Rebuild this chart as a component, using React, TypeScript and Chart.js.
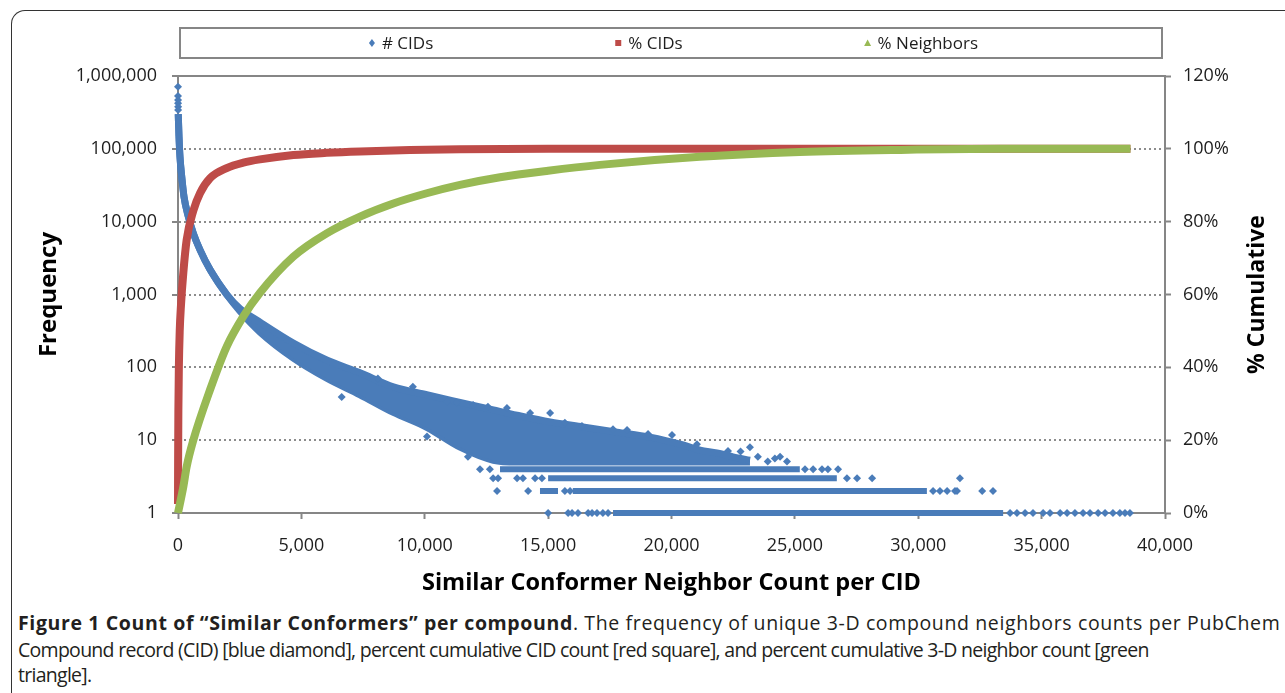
import React, { useEffect, useRef } from 'react';
import { Chart, registerables } from 'chart.js';
Chart.register(...registerables);

// ---------- axis ticks ----------
const xTickValues = [0, 5000, 10000, 15000, 20000, 25000, 30000, 35000, 40000];
const freqTickValues = [1, 10, 100, 1000, 10000, 100000, 1000000];
const pctTickValues = [0, 20, 40, 60, 80, 100, 120];

// ---------- legend ----------
const seriesLabels = ['# CIDs', '% CIDs', '% Neighbors'];

// ---------- % CIDs (red, cumulative) ----------
const pctCidX = [0, 5, 15, 35, 70, 120, 216, 351, 621, 892, 1297, 1973, 2648, 3324, 4675, 6026, 7377, 9403, 11430, 15000, 20000, 25000, 30000, 35000, 38600];
const pctCidY = [2.5, 15, 28, 40, 50, 57, 66, 75, 83, 87.8, 91.9, 94.7, 96.2, 97.1, 98.3, 98.9, 99.3, 99.7, 99.9, 100, 100, 100, 100, 100, 100];

// ---------- % Neighbors (green, cumulative) ----------
const pctNbrX = [0, 216, 351, 621, 1297, 1973, 2648, 3324, 4675, 6026, 7377, 8728, 10080, 11430, 13050, 15000, 17100, 21150, 25200, 29260, 33300, 38600];
const pctNbrY = [0, 7.2, 12.7, 20, 33.8, 45.7, 54, 60.5, 70.4, 76.8, 81.4, 85, 87.8, 90.1, 92.2, 94, 95.6, 97.8, 99.1, 99.7, 100, 100];

// ---------- # CIDs (blue) : dense band edges ----------
const bandX = [10, 40, 80, 150, 243, 420, 621, 892, 1297, 1973, 2513, 3324, 4675, 6026, 7377, 8728, 10080, 11430, 12780, 13740, 15080, 16410, 17790, 19130, 20470, 21160, 21840, 22490, 23180];
const bandUpper = [300000, 150000, 78000, 42000, 22000, 11700, 6900, 4100, 2200, 1000, 640, 418, 216, 126, 84, 54, 42, 33, 26, 22, 17.8, 15.2, 12.9, 11, 8.6, 7.3, 6.7, 5.9, 5.3];
const bandLower = [300000, 150000, 78000, 42000, 22000, 11700, 6900, 4100, 2200, 1000, 590, 305, 134, 71, 42, 24, 15, 8, 5.3, 5, 5, 5, 5, 5, 5, 5, 5, 5, 5];

// ---------- # CIDs : dense horizontal rows at small counts ----------
const row4Spans = [[13050, 25200]];
const row3Spans = [[15000, 26700]];
const row2Spans = [[14670, 15400], [16000, 30350]];
const row1Spans = [[17630, 33440]];

// ---------- # CIDs : individual diamonds ----------
const cidTopX = [0, 1, 2, 3, 4, 5];
const cidTopY = [713000, 532000, 469000, 422000, 379000, 341000];

const cidOutlierX = [6634, 8100, 9520, 10090, 10900, 11300, 11750, 11960, 12560, 13330, 14270, 15080, 15680, 16370, 17630, 18200, 19050, 20020, 21030, 22290, 22800, 23180, 23500, 23900, 24190, 24400, 24680];
const cidOutlierY = [39, 70, 54, 11.2, 33.7, 33, 5.9, 30.4, 28.8, 27.6, 23.6, 23.6, 17.4, 15.6, 14.1, 13.8, 12.2, 11.8, 8.8, 7.1, 7, 8, 5.9, 5.1, 5.6, 5.9, 5.1];

const row4SparseX = [12240, 12640, 25410, 25740, 26100, 26340, 26750];
const row3SparseX = [12770, 12970, 13740, 13980, 14470, 14750, 27110, 27520, 28130, 31690];
const row2SparseX = [12930, 14190, 15680, 15890, 30600, 30880, 31170, 31490, 31570, 32590, 33030];
const row1SparseX = [15000, 15810, 15970, 16210, 16620, 16780, 16980, 17220, 17430, 33720, 34000, 34330, 34650, 35060, 35340, 35750, 36030, 36350, 36680, 36960, 37290, 37570, 37890, 38170, 38380, 38580];

// ---------- style ----------
const BLUE = '#4a7cb9';
const RED = '#be4b48';
const GREEN = '#98b954';
const AXIS = '#868686';
const TEXT = '#1e1e1e';
const FONT = '"Open Sans", "DejaVu Sans", sans-serif';

const pts = (xs: number[], ys: number[]) => xs.map((x, i) => ({ x, y: ys[i] }));
const spansToLine = (spans: number[][], v: number) => {
  const out: any[] = [];
  spans.forEach(([a, b], i) => {
    if (i > 0) out.push({ x: (spans[i - 1][1] + a) / 2, y: null });
    out.push({ x: a, y: v }, { x: b, y: v });
  });
  return out;
};
const rowPts = (xs: number[], v: number) => xs.map((x) => ({ x, y: v }));

const frameDecor = {
  id: 'frameDecor',
  beforeDatasetsDraw(chart: any) {
    const { ctx, chartArea } = chart;
    ctx.save();
    ctx.strokeStyle = AXIS;
    ctx.lineWidth = 2;
    ctx.beginPath();
    ctx.moveTo(chartArea.left, chartArea.top);
    ctx.lineTo(chartArea.right, chartArea.top);
    ctx.stroke();
    ctx.restore();
  },
  afterDraw(chart: any) {
    const { ctx, chartArea } = chart;
    ctx.save();
    // legend box
    const bx = chartArea.left + 2;
    const bw = chartArea.right - 3 - bx;
    const by = 28;
    const bh = 30;
    ctx.strokeStyle = AXIS;
    ctx.lineWidth = 2;
    ctx.strokeRect(bx, by, bw, bh);
    ctx.font = `17px ${FONT}`;
    ctx.textBaseline = 'middle';
    ctx.fillStyle = TEXT;
    const markerW = 6;
    const gapText = 7;
    const gapItem = 182;
    const widths = seriesLabels.map((t) => markerW + gapText + ctx.measureText(t).width);
    const total = widths.reduce((a, b) => a + b, 0) + gapItem * (seriesLabels.length - 1);
    let x = (chartArea.left + chartArea.right) / 2 + 2 - total / 2;
    const cy = by + bh / 2;
    const colors = [BLUE, RED, GREEN];
    seriesLabels.forEach((t, i) => {
      const mx = x + markerW / 2;
      ctx.fillStyle = colors[i];
      ctx.beginPath();
      if (i === 0) {
        ctx.moveTo(mx, cy - 4);
        ctx.lineTo(mx + 3, cy);
        ctx.lineTo(mx, cy + 4);
        ctx.lineTo(mx - 3, cy);
        ctx.closePath();
      } else if (i === 1) {
        ctx.rect(mx - 3, cy - 3, 6, 6);
      } else {
        ctx.moveTo(mx, cy - 3.5);
        ctx.lineTo(mx + 3.5, cy + 3);
        ctx.lineTo(mx - 3.5, cy + 3);
        ctx.closePath();
      }
      ctx.fill();
      ctx.fillStyle = TEXT;
      ctx.textAlign = 'left';
      ctx.fillText(t, x + markerW + gapText, cy + 1);
      x += widths[i] + gapItem;
    });
    // right axis title
    ctx.save();
    ctx.translate(1257, (chartArea.top + chartArea.bottom) / 2);
    ctx.rotate(-Math.PI / 2);
    ctx.font = `bold 23px ${FONT}`;
    ctx.textAlign = 'center';
    ctx.textBaseline = 'middle';
    ctx.fillStyle = '#000';
    ctx.fillText('% Cumulative', 0, 0);
    ctx.restore();
    ctx.restore();
  },
};

function ChartView() {
  const ref = useRef<HTMLCanvasElement | null>(null);
  useEffect(() => {
    if (!ref.current) return;
    const lineBase = { type: 'line' as const, pointRadius: 0, pointHoverRadius: 0, clip: false as any, spanGaps: false };
    const chart = new Chart(ref.current, {
      type: 'line',
      data: {
        datasets: [
          {
            ...lineBase,
            label: seriesLabels[2],
            data: pts(pctNbrX, pctNbrY),
            yAxisID: 'yr',
            borderColor: GREEN,
            borderWidth: 8,
            cubicInterpolationMode: 'monotone',
            fill: false,
          },
          {
            ...lineBase,
            label: seriesLabels[1],
            data: pts(pctCidX, pctCidY),
            yAxisID: 'yr',
            borderColor: RED,
            borderWidth: 8,
            cubicInterpolationMode: 'monotone',
            fill: false,
          },
          {
            type: 'scatter',
            label: seriesLabels[0],
            data: [
              ...pts(cidTopX, cidTopY),
              ...pts(cidOutlierX, cidOutlierY),
              ...rowPts(row4SparseX, 4),
              ...rowPts(row3SparseX, 3),
              ...rowPts(row2SparseX, 2),
              ...rowPts(row1SparseX, 1),
            ],
            yAxisID: 'y',
            pointStyle: 'rectRot',
            pointRadius: 4,
            pointBorderWidth: 0,
            backgroundColor: BLUE,
            borderColor: BLUE,
            clip: false as any,
          } as any,
          {
            ...lineBase,
            label: '',
            data: pts(bandX, bandUpper),
            yAxisID: 'y',
            borderColor: BLUE,
            backgroundColor: BLUE,
            borderWidth: 7,
            cubicInterpolationMode: 'monotone',
            fill: '+1',
          },
          {
            ...lineBase,
            label: '',
            data: pts(bandX, bandLower),
            yAxisID: 'y',
            borderColor: BLUE,
            borderWidth: 7,
            cubicInterpolationMode: 'monotone',
            fill: false,
          },
          ...[
            [row4Spans, 4],
            [row3Spans, 3],
            [row2Spans, 2],
            [row1Spans, 1],
          ].map(([spans, v]) => ({
            ...lineBase,
            label: '',
            data: spansToLine(spans as number[][], v as number),
            yAxisID: 'y',
            borderColor: BLUE,
            borderWidth: 6,
            borderCapStyle: 'butt' as const,
            fill: false,
          })),
        ] as any,
      },
      options: {
        responsive: false,
        animation: false,
        devicePixelRatio: 1,
        parsing: true,
        events: [],
        layout: { padding: { top: 76, left: 0, right: 0, bottom: 0 } },
        plugins: { legend: { display: false }, tooltip: { enabled: false } },
        scales: {
          x: {
            type: 'linear',
            position: 'bottom',
            min: 0,
            max: 40000,
            afterBuildTicks: (s: any) => { s.ticks = xTickValues.map((value) => ({ value })); },
            afterFit: (s: any) => { s.height = 87; },
            ticks: {
              autoSkip: false,
              maxRotation: 0,
              padding: 16,
              color: TEXT,
              font: { family: FONT, size: 18 },
              callback: (v: any) => Number(v).toLocaleString('en-US'),
            },
            grid: { drawOnChartArea: false, drawTicks: true, tickLength: 6, tickColor: AXIS, tickWidth: 2 },
            border: { color: AXIS, width: 2 },
            title: {
              display: true,
              text: 'Similar Conformer Neighbor Count per CID',
              color: '#000',
              font: { family: FONT, size: 23.5, weight: 'bold' },
              padding: { top: 0, bottom: 3 },
            },
          },
          y: {
            type: 'logarithmic',
            position: 'left',
            min: 1,
            max: 1000000,
            afterBuildTicks: (s: any) => { s.ticks = freqTickValues.map((value) => ({ value })); },
            afterFit: (s: any) => { s.width = 178; },
            ticks: {
              autoSkip: false,
              padding: 15,
              color: TEXT,
              font: { family: FONT, size: 18 },
              callback: (v: any) => Number(v).toLocaleString('en-US'),
            },
            grid: { color: '#8c8c8c', lineWidth: 2, drawTicks: true, tickLength: 6, tickColor: AXIS, tickWidth: 2 },
            border: { color: AXIS, width: 2, dash: [2, 3] },
            title: {
              display: true,
              text: 'Frequency',
              color: '#000',
              font: { family: FONT, size: 24, weight: 'bold' },
              padding: { top: 35, bottom: 0 },
            },
          },
          yr: {
            type: 'linear',
            position: 'right',
            min: 0,
            max: 120,
            afterBuildTicks: (s: any) => { s.ticks = pctTickValues.map((value) => ({ value })); },
            afterFit: (s: any) => { s.width = 120; },
            ticks: {
              autoSkip: false,
              padding: 12,
              color: TEXT,
              font: { family: FONT, size: 18 },
              callback: (v: any) => `${v}%`,
            },
            grid: { drawOnChartArea: false, drawTicks: true, tickLength: 6, tickColor: AXIS, tickWidth: 2 },
            border: { color: AXIS, width: 2 },
          },
        },
      } as any,
      plugins: [frameDecor],
    });
    return () => chart.destroy();
  }, []);
  return (
    <canvas
      ref={ref}
      width={1285}
      height={600}
      style={{ position: 'absolute', left: 0, top: 0, width: 1285, height: 600 }}
    />
  );
}

export default function App() {
  const capStyle: React.CSSProperties = {
    position: 'absolute',
    left: 18,
    whiteSpace: 'nowrap',
    fontFamily: FONT,
    fontSize: 19.5,
    lineHeight: '26px',
    color: '#231f20',
  };
  return (
    <div style={{ position: 'fixed', left: 0, top: 0, width: 1285, height: 693, background: '#fff', overflow: 'hidden' }}>
      <div
        style={{
          position: 'absolute',
          left: 11,
          top: 10,
          width: 1300,
          height: 720,
          borderLeft: '1.5px solid #333',
          borderTop: '1.5px solid #333',
          borderTopLeftRadius: 14,
        }}
      />
      <ChartView />
      <div style={{ ...capStyle, top: 610, letterSpacing: '0.63px' }}>
        <b>Figure 1 Count of “Similar Conformers” per compound</b>. The frequency of unique 3-D compound neighbors counts per PubChem
      </div>
      <div style={{ ...capStyle, top: 637, letterSpacing: '-0.72px' }}>
        Compound record (CID) [blue diamond], percent cumulative CID count [red square], and percent cumulative 3-D neighbor count [green
      </div>
      <div style={{ ...capStyle, top: 662, letterSpacing: '-0.72px' }}>triangle].</div>
    </div>
  );
}
